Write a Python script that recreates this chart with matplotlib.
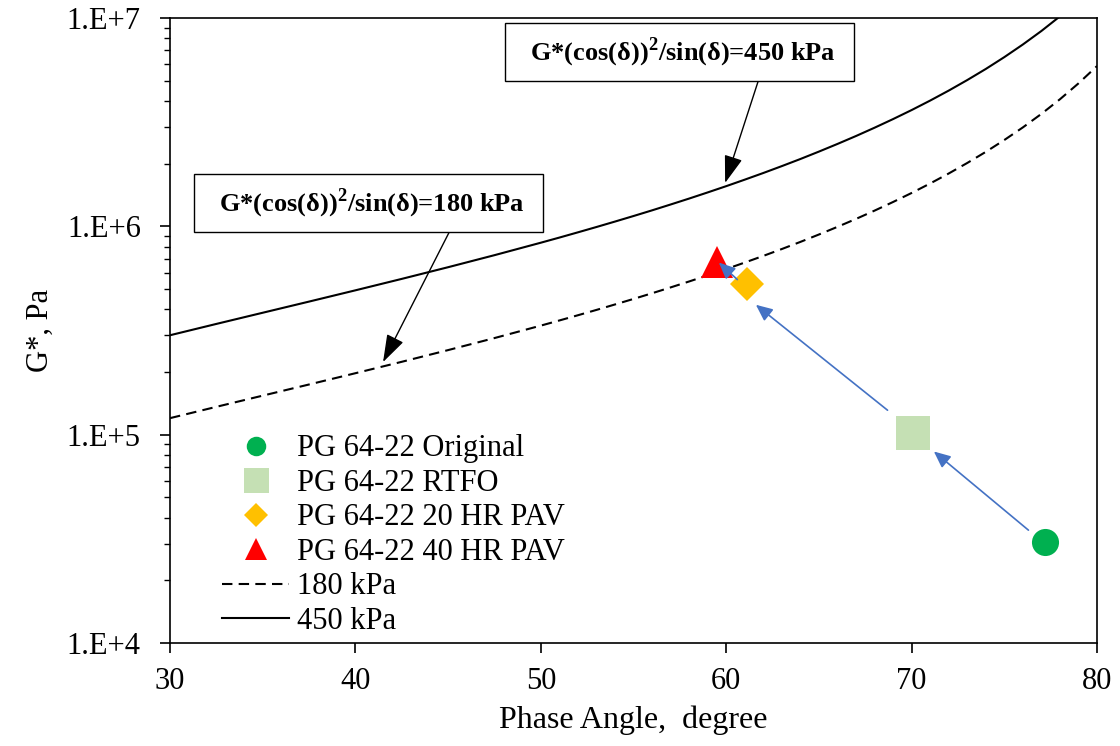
import numpy as np
import matplotlib.pyplot as plt
from matplotlib.ticker import FixedLocator, LogLocator, NullFormatter

plt.rcParams['font.family'] = ['Liberation Serif', 'DejaVu Serif']
plt.rcParams['mathtext.fontset'] = 'custom'
plt.rcParams['mathtext.rm'] = 'Liberation Serif'
plt.rcParams['mathtext.bf'] = 'Liberation Serif:bold'

# phase angle (deg) and G* (Pa)
angle_line = [30, 32.5, 35, 37.5, 40, 42.5, 45, 47.5, 50, 51, 52, 53, 54, 55,
              56, 57, 58, 59, 60, 61, 62, 63, 64, 65, 66, 67, 68, 69, 70,
              71, 72, 73, 74, 75, 76, 77, 78, 79, 80]
g_180 = [1.20e5, 1.36e5, 1.539e5, 1.741e5, 1.972e5, 2.237e5, 2.546e5, 2.908e5,
         3.337e5, 3.532e5, 3.742e5, 3.969e5, 4.216e5, 4.482e5, 4.772e5, 5.090e5,
         5.436e5, 5.818e5, 6.235e5, 6.700e5, 7.211e5, 7.781e5, 8.417e5, 9.135e5,
         9.941e5, 1.0852e6, 1.1894e6, 1.3086e6, 1.4458e6, 1.6056e6, 1.7928e6,
         2.014e6, 2.277e6, 2.596e6, 2.984e6, 3.465e6, 4.073e6, 4.855e6, 5.879e6]
g_450 = [3.00e5, 3.40e5, 3.847e5, 4.352e5, 4.929e5, 5.593e5, 6.364e5, 7.269e5,
         8.343e5, 8.829e5, 9.356e5, 9.923e5, 1.0539e6, 1.1205e6, 1.193e6, 1.2726e6,
         1.359e6, 1.4544e6, 1.5588e6, 1.6749e6, 1.8027e6, 1.9454e6, 2.1042e6,
         2.2838e6, 2.4854e6, 2.713e6, 2.9736e6, 3.2715e6, 3.6144e6, 4.014e6,
         4.482e6, 5.0355e6, 5.6925e6, 6.489e6, 7.461e6, 8.6625e6, 1.0184e7,
         1.2137e7, 1.4697e7]

# binder aging states
labels = ['PG 64-22 Original', 'PG 64-22 RTFO', 'PG 64-22 20 HR PAV', 'PG 64-22 40 HR PAV']
phase = [77.2, 70.1, 61.1, 59.5]
gstar = [3.05e4, 1.02e5, 5.29e5, 6.74e5]
markers = ['o', 's', 'D', '^']
colors = ['#00B050', '#C5E0B4', '#FFC000', '#FF0000']
msizes = [19.5, 25, 17, 23]

# aging arrows (tail -> head)
arrows = [((76.3, 3.48e4), (71.2, 8.3e4)),
          ((68.7, 1.31e5), (61.6, 4.2e5)),
          ((60.6, 5.55e5), (59.6, 6.7e5))]

fig = plt.figure(figsize=(11.2, 7.46), dpi=100)
ax = fig.add_axes([0.1518, 0.1381, 0.8277, 0.8378])

for lab, x, y, m, c, s in zip(labels, phase, gstar, markers, colors, msizes):
    ax.plot([x], [y], linestyle='none', marker=m, color=c, markersize=s,
            markeredgewidth=0, label=lab, zorder=3)

ax.plot(angle_line, g_180, color='black', linestyle=(0, (5, 3)), linewidth=1.5,
        label='180 kPa', zorder=2)
ax.plot(angle_line, g_450, color='black', linestyle='-', linewidth=1.5,
        label='450 kPa', zorder=2)

for (x0, y0), (x1, y1) in arrows:
    ax.annotate('', xy=(x1, y1), xytext=(x0, y0),
                arrowprops=dict(arrowstyle='-|>,head_length=1.0,head_width=0.45',
                                color='#4472C4', lw=1.2, shrinkA=0, shrinkB=0),
                zorder=4)

box = dict(boxstyle='square,pad=0.45', facecolor='white', edgecolor='black', lw=1.0)
ax.annotate(r'  G*(cos($\mathbf{\delta}$))$^{\mathbf{2}}$/sin($\mathbf{\delta}$)=450 kPa  ',
            xy=(59.94, 1.615e6), xytext=(57.48, 6.87e6), textcoords='data',
            fontsize=19, fontweight='bold', ha='center', va='center', bbox=box,
            arrowprops=dict(arrowstyle='-|>,head_length=0.9,head_width=0.3',
                            color='black', lw=1.0, shrinkA=0, shrinkB=0,
                            relpos=(0.754, 0.0)))
ax.annotate(r'  G*(cos($\mathbf{\delta}$))$^{\mathbf{2}}$/sin($\mathbf{\delta}$)=180 kPa  ',
            xy=(41.49, 2.23e5), xytext=(40.71, 1.294e6), textcoords='data',
            fontsize=19, fontweight='bold', ha='center', va='center', bbox=box,
            arrowprops=dict(arrowstyle='-|>,head_length=0.9,head_width=0.3',
                            color='black', lw=1.0, shrinkA=0, shrinkB=0,
                            relpos=(0.767, 0.0)))

ax.set_yscale('log')
ax.set_xlim(30, 80)
ax.set_ylim(1e4, 1e7)
ax.set_xticks([30, 40, 50, 60, 70, 80])
ax.yaxis.set_major_locator(FixedLocator([1e4, 1e5, 1e6, 1e7]))
ax.yaxis.set_minor_locator(LogLocator(base=10, subs=np.arange(2, 10)))
ax.yaxis.set_minor_formatter(NullFormatter())
ax.set_yticklabels(['1.E+4', '1.E+5', '1.E+6', '1.E+7'])

ax.tick_params(axis='both', which='major', labelsize=22, length=7, width=1.2,
               direction='out')
ax.tick_params(axis='x', which='major', pad=10)
ax.tick_params(axis='y', which='major', pad=14)
ax.tick_params(axis='y', which='minor', length=4, width=1.0, direction='out')
for sp in ax.spines.values():
    sp.set_linewidth(1.2)

ax.set_xlabel('Phase Angle,  degree', fontsize=23, labelpad=7)
ax.set_ylabel('G*, Pa', fontsize=22, labelpad=9)

leg = ax.legend(loc='lower left', bbox_to_anchor=(0.043, -0.008), frameon=False,
                fontsize=22, handlelength=2.2, handletextpad=0.26,
                labelspacing=0.18, borderaxespad=0.0, markerscale=0.72)

fig.savefig('out.png', dpi=100)
